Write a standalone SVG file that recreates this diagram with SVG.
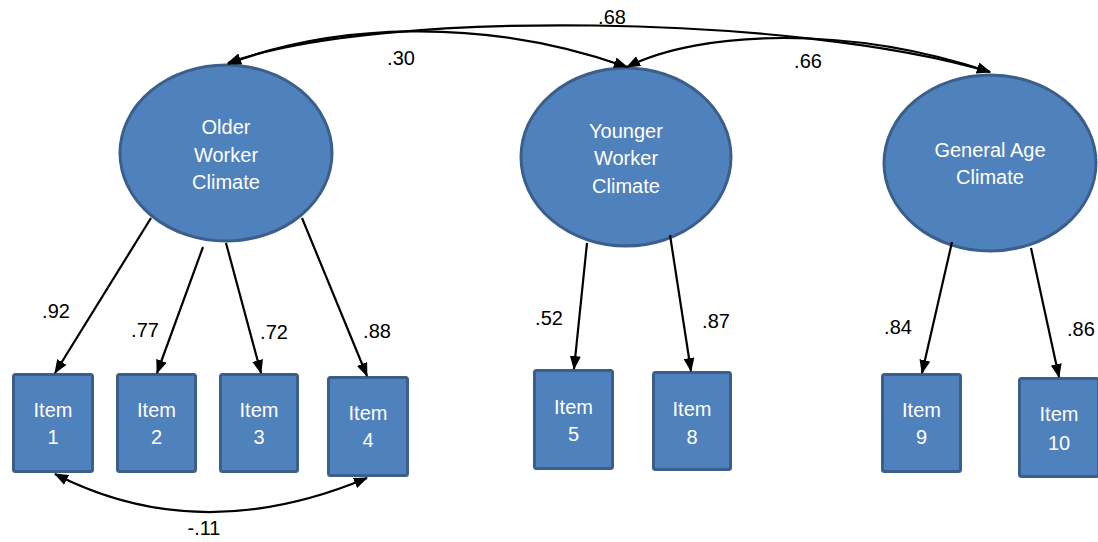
<svg xmlns="http://www.w3.org/2000/svg" width="1098" height="542" viewBox="0 0 1098 542">
<style>
.lat{fill:#4F81BD;stroke:#3A5F8B;stroke-width:3}
.box{fill:#4F81BD;stroke:#3A5F8B;stroke-width:3}
.nt{font-family:"Liberation Sans",Arial,sans-serif;font-size:20px;fill:#ffffff;text-anchor:middle}
.lb{font-family:"Liberation Sans",Arial,sans-serif;font-size:20px;fill:#000000;text-anchor:middle}
.ln{fill:none;stroke:#000000;stroke-width:2.2}
</style>
<defs>
<marker id="ah" viewBox="0 0 14 11" refX="13" refY="5.5" markerWidth="14" markerHeight="11" markerUnits="userSpaceOnUse" orient="auto-start-reverse">
<path d="M0,0 L14,5.5 L0,11 z" fill="#000000"/>
</marker>
</defs>
<rect width="1098" height="542" fill="#ffffff"/>
<g id="older">
<ellipse class="lat" cx="226" cy="153" rx="106" ry="88"/>
<text class="nt" x="226" y="134">Older</text>
<text class="nt" x="226" y="162">Worker</text>
<text class="nt" x="226" y="189">Climate</text>
</g>
<g id="younger">
<ellipse class="lat" cx="626" cy="157" rx="105" ry="89"/>
<text class="nt" x="626" y="138">Younger</text>
<text class="nt" x="626" y="165">Worker</text>
<text class="nt" x="626" y="193">Climate</text>
</g>
<g id="general">
<ellipse class="lat" cx="990" cy="163" rx="106" ry="88"/>
<text class="nt" x="990" y="157">General Age</text>
<text class="nt" x="990" y="184">Climate</text>
</g>
<g id="item1"><rect class="box" x="13.5" y="374.5" width="79" height="97" rx="2"/><text class="nt" x="53" y="417">Item</text><text class="nt" x="53" y="444">1</text></g>
<g id="item2"><rect class="box" x="117.5" y="374.5" width="78" height="97" rx="2"/><text class="nt" x="156.5" y="417">Item</text><text class="nt" x="156.5" y="444">2</text></g>
<g id="item3"><rect class="box" x="220.5" y="374.5" width="77" height="97" rx="2"/><text class="nt" x="259" y="417">Item</text><text class="nt" x="259" y="444">3</text></g>
<g id="item4"><rect class="box" x="328.5" y="377.5" width="79" height="98" rx="2"/><text class="nt" x="368" y="420">Item</text><text class="nt" x="368" y="447">4</text></g>
<g id="item5"><rect class="box" x="534.5" y="370.5" width="78" height="98" rx="2"/><text class="nt" x="573.5" y="414">Item</text><text class="nt" x="573.5" y="441">5</text></g>
<g id="item8"><rect class="box" x="653.5" y="372.5" width="77" height="97" rx="2"/><text class="nt" x="692" y="416">Item</text><text class="nt" x="692" y="444">8</text></g>
<g id="item9"><rect class="box" x="882.5" y="374.5" width="78" height="97" rx="2"/><text class="nt" x="921.5" y="417">Item</text><text class="nt" x="921.5" y="444">9</text></g>
<g id="item10"><rect class="box" x="1019.5" y="378.5" width="79" height="98" rx="2"/><text class="nt" x="1059" y="421">Item</text><text class="nt" x="1059" y="450">10</text></g>
<g id="connectors">
<line class="ln" x1="151" y1="218" x2="55" y2="373" marker-end="url(#ah)"/>
<line class="ln" x1="203" y1="247" x2="157" y2="373" marker-end="url(#ah)"/>
<line class="ln" x1="226" y1="243" x2="261" y2="373" marker-end="url(#ah)"/>
<line class="ln" x1="302" y1="218" x2="367" y2="376" marker-end="url(#ah)"/>
<line class="ln" x1="587" y1="243" x2="574" y2="369" marker-end="url(#ah)"/>
<line class="ln" x1="670" y1="235" x2="691" y2="371" marker-end="url(#ah)"/>
<line class="ln" x1="952" y1="242" x2="922" y2="373" marker-end="url(#ah)"/>
<line class="ln" x1="1031" y1="248" x2="1059" y2="377" marker-end="url(#ah)"/>
<path class="ln" d="M228,64 C330,25 480,15 627,67" marker-start="url(#ah)" marker-end="url(#ah)"/>
<path class="ln" d="M228,63 C380,8 800,15 990,72" marker-start="url(#ah)" marker-end="url(#ah)"/>
<path class="ln" d="M627,67 C700,30 850,25 990,72" marker-start="url(#ah)" marker-end="url(#ah)"/>
<path class="ln" d="M55,474 Q199,548 367,478" marker-start="url(#ah)" marker-end="url(#ah)"/>
</g>
<g id="labels">
<text class="lb" x="612" y="24">.68</text>
<text class="lb" x="401" y="65">.30</text>
<text class="lb" x="808" y="68">.66</text>
<text class="lb" x="56" y="318">.92</text>
<text class="lb" x="145" y="337">.77</text>
<text class="lb" x="274" y="339">.72</text>
<text class="lb" x="377" y="338">.88</text>
<text class="lb" x="549" y="325">.52</text>
<text class="lb" x="716" y="328">.87</text>
<text class="lb" x="898" y="334">.84</text>
<text class="lb" x="1067" y="336" style="text-anchor:start">.86</text>
<text class="lb" x="204" y="535">-.11</text>
</g>
</svg>
